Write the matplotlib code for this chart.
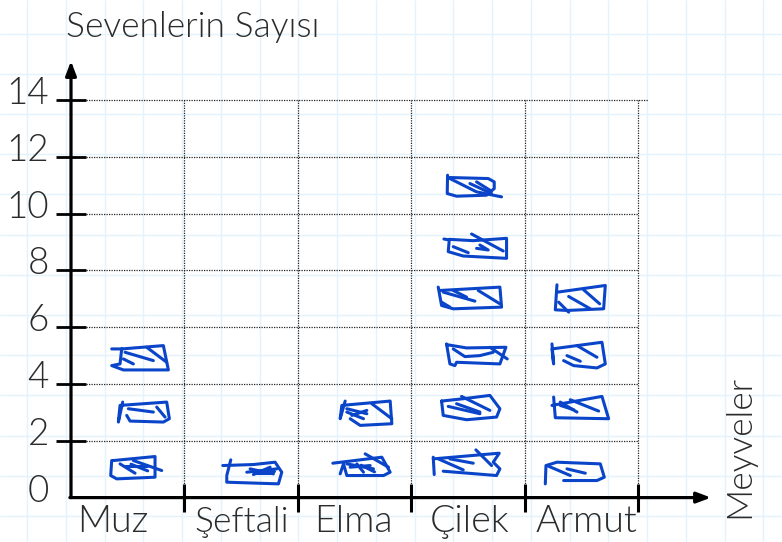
#! /usr/bin/env python
import numpy as np
import matplotlib
matplotlib.use('Agg')
import matplotlib.pyplot as plt

# Chart content
categories = ['Muz', 'Şeftali', 'Elma', 'Çilek', 'Armut']
supporters = [6, 2, 4, 12, 8]  # every icon stands for 2 people
y_ticks = [2, 4, 6, 8, 10, 12, 14]
y_label = 'Sevenlerin Sayısı'
x_label = 'Meyveler'

# Hand drawn strokes of each icon, in 1/3 pixels around the middle of its slot
# key is (category index, icon index from the bottom)
strokes = {
	(0, 0): [[(-48,-26),(-51,19),(-33,29),(82,24),(82,-38),(-43,-26)], [(-23,-16),(22,12)], [(17,-26),(102,4)], [(-8,-11),(57,-11)], [(10,-15),(60,5)]],
	(0, 1): [[(-15,-31),(-28,29),(-23,-21),(117,-31),(125,19),(107,29),(7,26),(-3,9)], [(2,-11),(77,-1)], [(87,-16),(112,14)]],
	(0, 2): [[(-48,-20),(-18,-20),(-23,25),(-48,30),(-13,43),(122,43),(107,-30),(-18,-20)], [(57,-25),(117,20)], [(-8,-10),(77,15)], [(-13,10),(17,25)]],
	(1, 0): [[(-55,-11),(37,-14),(102,-21),(122,9),(112,44),(-43,39),(-43,24)], [(-31,-28),(-43,19)], [(17,9),(107,-1)], [(27,-1),(97,14)], [(37,16),(87,-6)], [(30,5),(100,5)], [(40,12),(90,12)]],
	(2, 0): [[(-65,-18),(82,-36),(107,9),(87,19),(-23,19),(-33,-16),(-43,14)], [(32,-46),(102,-6)], [(-23,-16),(57,-1)], [(7,-16),(27,9)], [(-13,-6),(47,-11)], [(20,-12),(60,8)]],
	(2, 1): [[(-28,-34),(-43,19),(-38,-21),(107,-34),(112,34),(17,39),(-13,19)], [(52,-26),(112,19)], [(-23,-11),(37,4)], [(-8,9),(37,-6)], [(-23,-1),(27,19)]],
	(3, 0): [[(-104,-36),(-101,16)], [(-74,6),(86,19),(96,-1),(76,-21),(94,-48),(-104,-31)], [(24,-58),(71,-11)], [(-89,-31),(-14,2)], [(-54,-31),(16,-18)]],
	(3, 1): [[(-79,-34),(-74,9),(-4,22),(86,14),(96,-11),(66,-51),(-14,-41),(-79,-34)], [(-59,-18),(36,4)], [(-19,-48),(66,-6)], [(-34,-26),(36,-1)]],
	(3, 2): [[(-64,-35),(-54,25),(-39,30),(-34,20),(96,25),(114,-25),(-4,-23),(-64,-33)], [(66,-25),(118,10)], [(-44,-20),(-9,3),(36,0),(76,-10)]],
	(3, 3): [[(-89,-35),(-79,20),(-44,30),(101,25),(96,-35),(-84,-25)], [(31,-25),(96,15)], [(-74,-20),(21,7)], [(-44,-25),(-4,-5)], [(-79,10),(-54,25)]],
	(3, 4): [[(-72,-9),(-56,-6),(-59,29),(-14,42),(116,49),(116,-11),(16,-4),(-56,-8)], [(11,-24),(106,27)], [(-44,14),(1,32)], [(26,19),(61,24),(36,9)]],
	(3, 5): [[(-61,-30),(-62,25),(-34,33),(56,30),(79,10),(79,-10),(61,-20),(-54,-23)], [(-54,-20),(26,20),(101,35)], [(6,-5),(71,25)], [(26,-10),(66,15)]],
	(4, 0): [[(-108,44),(-106,-11),(-73,-21),(57,-16),(69,24),(47,34),(-53,34)], [(-103,-11),(-33,19)], [(-43,-1),(12,12)]],
	(4, 1): [[(-88,-21),(62,-48),(82,19),(-78,16),(-83,-46)], [(-63,-31),(-13,-1)], [(-33,-38),(52,-4)], [(-63,-21),(-23,-8)]],
	(4, 2): [[(-88,-35),(-83,25),(-88,-20),(62,-40),(72,25),(47,37),(-23,30),(-53,15)], [(-13,-30),(47,5)], [(-43,0),(-3,17)]],
	(4, 3): [[(-73,-42),(-78,33),(-43,35),(67,30),(72,-40),(-71,-20)], [(7,-27),(55,15)], [(-38,-7),(27,30)], [(-68,10),(-38,40)]],
}

# Layout of the picture, in pixels
W, H = 782, 542
x0, y0 = 71.0, 497.6
cell_w = 113.4
unit_h = 28.4
font = ['Lato', 'DejaVu Sans']
text_color = '#2b2b2b'
blue = '#0a45c9'
paper = '#e4f3fb'

def px_x(p):
	return (p - x0) / cell_w

def px_y(p):
	return (y0 - p) / unit_h

fig = plt.figure(figsize=(W / 100, H / 100), dpi=100)
ax = fig.add_axes([0, 0, 1, 1])
ax.set_xlim(px_x(0), px_x(W))
ax.set_ylim(px_y(H), px_y(0))
ax.axis('off')

# Squared paper behind the chart
ax.vlines(px_x(np.arange(27, W, 38.75)), px_y(H), px_y(0), color=paper, lw=1.0, zorder=1)
ax.hlines(px_y(np.arange(33.5, H, 40.2)), px_x(0), px_x(W), color=paper, lw=1.0, zorder=1)

# Dotted grid
n = len(categories)
for t in y_ticks:
	right = n + 0.09 if t == max(y_ticks) else n
	ax.plot([0, right], [t, t], color='#222222', lw=0.9, ls=(0, (1, 1)), zorder=2)
for i in range(1, n + 1):
	ax.plot([i, i], [0.4, max(y_ticks)], color='#222222', lw=0.9, ls=(0, (1, 1)), zorder=2)

# Axes with arrows
ax.annotate('', xy=(0, px_y(61)), xytext=(0, 0),
	arrowprops=dict(arrowstyle='-|>,head_width=0.32,head_length=0.85', color='black', lw=2.3, shrinkA=0, shrinkB=0), zorder=4)
ax.annotate('', xy=(px_x(711), 0), xytext=(-0.01, 0),
	arrowprops=dict(arrowstyle='-|>,head_width=0.32,head_length=0.85', color='black', lw=2.3, shrinkA=0, shrinkB=0), zorder=4)
for t in y_ticks:
	ax.plot([px_x(56), px_x(86)], [t, t], color='black', lw=2.0, solid_capstyle='butt', zorder=4)
for i in range(1, n + 1):
	ax.plot([i, i], [px_y(484), px_y(512)], color='black', lw=2.2, solid_capstyle='butt', zorder=4)

# Tick labels
for t in [0] + y_ticks:
	ax.text(px_x(49), t + 6 / unit_h, str(t), family=font, weight=300, fontsize=26.5,
		color=text_color, ha='right', va='center')
label_left = [77, 194, 314, 430, 536]
label_size = [27, 25.5, 27, 27, 27]
for name, left, size in zip(categories, label_left, label_size):
	ax.text(px_x(left), px_y(532), name, family=font, weight=300, fontsize=size,
		color=text_color, ha='left', va='baseline')
ax.text(px_x(66), px_y(37), y_label, family=font, weight=300, fontsize=25.5,
	color=text_color, ha='left', va='baseline')
ax.text(px_x(755), px_y(518), x_label, family=font, weight=300, fontsize=25.5,
	color=text_color, rotation=90, ha='right', va='bottom')

# One icon for every 2 supporters, in the middle of each 2 unit row
for i, total in enumerate(supporters):
	for k in range(total // 2):
		cx = i + 0.5
		cy = 2 * k + 1
		for s in strokes[(i, k)]:
			pts = np.array(s, dtype=float) / 3
			ax.plot(cx + pts[:, 0] / cell_w, cy - pts[:, 1] / unit_h, color=blue, lw=2.2,
				solid_joinstyle='round', solid_capstyle='round', zorder=5)

fig.savefig('out.png', dpi=100)
